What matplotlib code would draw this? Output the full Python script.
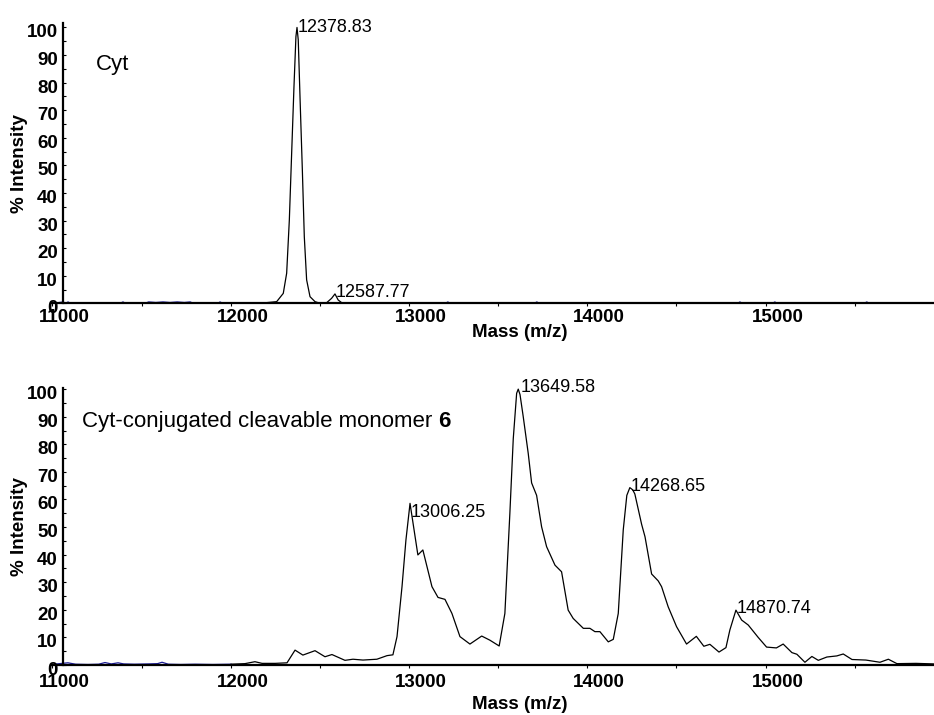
import numpy as np
import matplotlib
matplotlib.use('Agg')
import matplotlib.pyplot as plt
from matplotlib.ticker import MultipleLocator
from matplotlib.transforms import ScaledTranslation

plt.rcParams['font.family'] = ['Liberation Sans', 'DejaVu Sans']

# --- Cyt (top spectrum) ---
cyt_mass = [11059, 12164, 12258, 12295, 12314, 12329, 12342, 12355, 12366, 12372,
            12379, 12390, 12402, 12413, 12426, 12445, 12473, 12501, 12538, 12566,
            12585, 12603, 12623, 12700, 15945]
cyt_int = [0, 0, 0.6, 3.6, 10.9, 30.2, 54.4, 78.5, 96.7, 100,
           95.5, 72.5, 48.3, 24.1, 8.5, 2.4, 0.6, 0, 0.2, 1.8,
           3.4, 1.2, 0.2, 0, 0]
cyt_blue_mass = [11010, 11060, 11075, 11088, 11100, 11380, 11396, 11410, 11520, 11540,
                 11580, 11620, 11660, 11700, 11740, 11773, 11790, 11930, 11940, 11955,
                 13205, 13218, 13230, 13705, 13717, 13730, 14845, 14856, 14870, 15040,
                 15052, 15065, 15555, 15568, 15580, 15945]
cyt_blue_int = [0, 0.5, 0, 0.5, 0, 0, 0.5, 0, 0, 0.5,
                0.3, 0.5, 0.3, 0.5, 0.3, 0.5, 0, 0, 0.5, 0,
                0, 0.5, 0, 0, 0.5, 0, 0, 0.5, 0, 0,
                0.5, 0, 0, 0.5, 0, 0]
cyt_peaks = ['12378.83', '12587.77']

# --- Cyt-conjugated cleavable monomer 6 (bottom spectrum) ---
mon_mass = [12002, 12080, 12136, 12176, 12250, 12316, 12361, 12405, 12473, 12529,
            12568, 12641, 12686, 12742, 12820, 12877, 12910, 12933, 12961, 12983,
            13006, 13050, 13078, 13129, 13163, 13202, 13241, 13286, 13342, 13408,
            13454, 13506, 13538, 13566, 13585, 13604, 13613, 13623, 13641, 13669,
            13688, 13716, 13744, 13772, 13819, 13856, 13893, 13921, 13978, 14015,
            14043, 14071, 14118, 14146, 14174, 14202, 14222, 14239, 14255, 14267,
            14305, 14324, 14361, 14398, 14417, 14454, 14501, 14557, 14612, 14654,
            14688, 14739, 14778, 14800, 14834, 14866, 14903, 14959, 15006, 15061,
            15099, 15148, 15176, 15221, 15260, 15296, 15344, 15400, 15436, 15485,
            15563, 15642, 15689, 15737, 15844, 15944]
mon_int = [0.3, 0.5, 1.2, 0.6, 0.6, 0.8, 5.4, 3.6, 5.2, 3.0,
           3.8, 1.7, 2.1, 1.8, 2.1, 3.4, 3.7, 10.3, 28.4, 45.3,
           58.6, 39.9, 41.7, 28.4, 24.5, 23.8, 18.7, 10.3, 7.6, 10.5,
           9.0, 6.9, 18.7, 55.0, 82.0, 98.5, 100.0, 98.0, 90.0, 76.7,
           66.0, 61.5, 50.1, 42.9, 36.2, 33.8, 19.9, 16.9, 13.3, 13.3,
           12.1, 12.1, 8.4, 9.3, 18.7, 49.0, 61.5, 64.3, 63.5, 62.0,
           51.0, 46.5, 33.0, 30.5, 28.4, 21.1, 13.9, 7.6, 10.4, 6.8,
           7.5, 4.7, 6.3, 12.7, 19.9, 16.3, 14.5, 10.0, 6.5, 6.2,
           7.6, 4.5, 3.9, 1.0, 3.1, 1.7, 2.9, 3.3, 4.0, 2.0,
           1.8, 1.0, 2.1, 0.5, 0.6, 0.4]
mon_blue_mass = [11010, 11087, 11130, 11200, 11260, 11295, 11330, 11368, 11400, 11460,
                 11540, 11590, 11615, 11650, 11720, 11800, 11900, 12002]
mon_blue_int = [0.3, 0.8, 0.3, 0.2, 0.3, 0.9, 0.4, 0.8, 0.4, 0.3,
                0.4, 0.5, 1.0, 0.3, 0.2, 0.3, 0.2, 0.3]
mon_peaks = ['13006.25', '13649.58', '14268.65', '14870.74']

# label offsets in pixels (right, down from the apex to the text baseline)
cyt_offsets = [(1, 4.7), (1, 2.7)]
mon_offsets = [(1, 13.4), (2, 2.7), (1, 3), (1, 3.3)]

DPI = 100
BLUE = '#1c1c96'

fig = plt.figure(figsize=(9.34, 7.15), dpi=DPI)
ax1 = fig.add_axes([0.0561, 0.5758, 0.9439, 0.3916])
ax2 = fig.add_axes([0.0561, 0.0699, 0.9439, 0.3874])


def style_axis(ax, ytop, xpad, xlabel_y):
    ax.set_xlim(11000, 15945)
    ax.set_ylim(0, ytop)
    for s in ['top', 'right']:
        ax.spines[s].set_visible(False)
    ax.spines['left'].set_position(('data', 11059))
    ax.spines['left'].set_linewidth(1.6)
    ax.spines['bottom'].set_linewidth(1.6)
    ax.xaxis.set_major_locator(MultipleLocator(1000))
    ax.xaxis.set_minor_locator(MultipleLocator(500))
    ax.yaxis.set_major_locator(MultipleLocator(10))
    ax.yaxis.set_minor_locator(MultipleLocator(5))
    ax.tick_params(axis='x', which='both', direction='out', length=2.5, width=0.8,
                   pad=xpad, labelsize=13.5)
    ax.tick_params(axis='y', which='both', direction='in', length=2.5, width=0.8,
                   pad=3.6, labelsize=13.5)
    for lab in ax.get_xticklabels():
        lab.set_fontweight('bold')
        lab.set_transform(lab.get_transform() + ScaledTranslation(12 / DPI, 0, fig.dpi_scale_trans))
    for lab in ax.get_yticklabels():
        lab.set_fontweight('bold')
        lab.set_transform(lab.get_transform() + ScaledTranslation(0, -3.5 / DPI, fig.dpi_scale_trans))
    ax.set_xlabel('Mass (m/z)', fontsize=13.5, fontweight='bold', va='center')
    ax.xaxis.set_label_coords(0.530, xlabel_y)
    ax.set_ylabel('% Intensity', fontsize=13.5, fontweight='bold', va='center')
    ax.yaxis.set_label_coords(-0.0368, 0.5)


def label_peaks(ax, mass, inten, labels, offsets):
    mass = np.array(mass)
    inten = np.array(inten)
    for lab, (dx, dy) in zip(labels, offsets):
        m = float(lab)
        win = np.where(np.abs(mass - m) <= 60)[0]
        i = win[np.argmax(inten[win])]
        ax.annotate(lab, xy=(mass[i], inten[i]), xytext=(dx * 0.72, -dy * 0.72),
                    textcoords='offset points', ha='left', va='baseline', fontsize=13)


# top panel
ax1.plot(cyt_blue_mass, cyt_blue_int, color=BLUE, lw=0.9, zorder=1)
ax1.plot(cyt_mass, cyt_int, color='black', lw=0.9, zorder=2, solid_joinstyle='round')
style_axis(ax1, 101.5, 1.5, -0.105)
label_peaks(ax1, cyt_mass, cyt_int, cyt_peaks, cyt_offsets)
ax1.text(0.0495, 0.833, 'Cyt', transform=ax1.transAxes, fontsize=16, va='baseline', ha='left')

# bottom panel
ax2.plot(mon_blue_mass, mon_blue_int, color=BLUE, lw=0.9, zorder=1)
ax2.plot(mon_mass, mon_int, color='black', lw=0.9, zorder=2, solid_joinstyle='round')
style_axis(ax2, 100.4, 4.0, -0.142)
label_peaks(ax2, mon_mass, mon_int, mon_peaks, mon_offsets)
t = ax2.text(0.0336, 0.860, 'Cyt-conjugated cleavable monomer ', transform=ax2.transAxes,
             fontsize=16, va='baseline', ha='left')
ax2.annotate('6', xy=(1, 0), xycoords=t, ha='left', va='bottom',
             fontsize=16, fontweight='bold')

fig.savefig('out.png', dpi=DPI)
